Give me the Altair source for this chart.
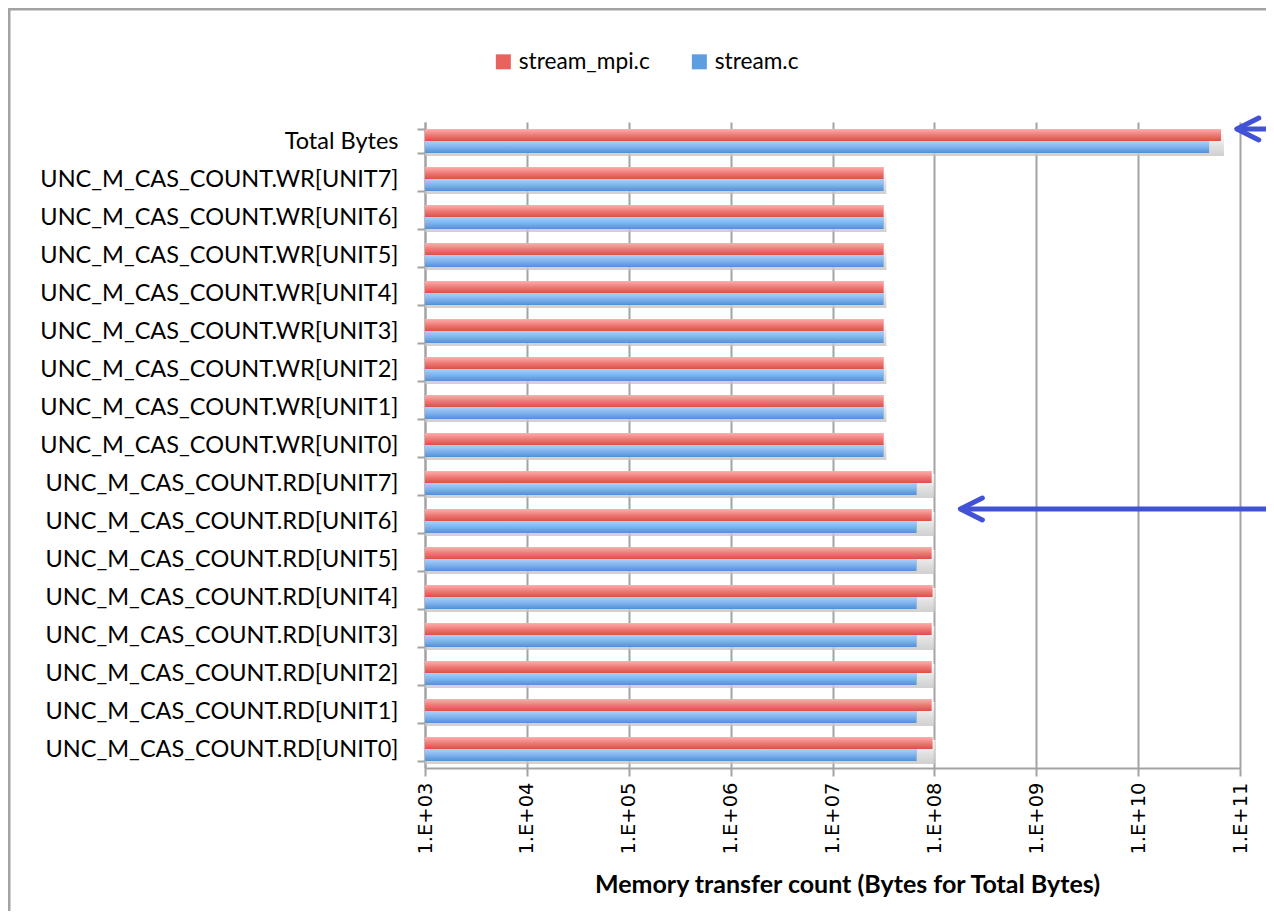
import altair as alt
import pandas as pd

categories = [
    "Total Bytes",
    "UNC_M_CAS_COUNT.WR[UNIT7]", "UNC_M_CAS_COUNT.WR[UNIT6]", "UNC_M_CAS_COUNT.WR[UNIT5]",
    "UNC_M_CAS_COUNT.WR[UNIT4]", "UNC_M_CAS_COUNT.WR[UNIT3]", "UNC_M_CAS_COUNT.WR[UNIT2]",
    "UNC_M_CAS_COUNT.WR[UNIT1]", "UNC_M_CAS_COUNT.WR[UNIT0]",
    "UNC_M_CAS_COUNT.RD[UNIT7]", "UNC_M_CAS_COUNT.RD[UNIT6]", "UNC_M_CAS_COUNT.RD[UNIT5]",
    "UNC_M_CAS_COUNT.RD[UNIT4]", "UNC_M_CAS_COUNT.RD[UNIT3]", "UNC_M_CAS_COUNT.RD[UNIT2]",
    "UNC_M_CAS_COUNT.RD[UNIT1]", "UNC_M_CAS_COUNT.RD[UNIT0]",
]
series = ["stream_mpi.c", "stream.c"]
mpi_values = [6.5e10,
              3.16e7, 3.16e7, 3.16e7, 3.16e7, 3.16e7, 3.16e7, 3.16e7, 3.16e7,
              9.35e7, 9.35e7, 9.35e7, 9.55e7, 9.35e7, 9.35e7, 9.35e7, 9.55e7]
stream_values = [4.97e10,
                 3.16e7, 3.16e7, 3.16e7, 3.16e7, 3.16e7, 3.16e7, 3.16e7, 3.16e7,
                 6.66e7, 6.66e7, 6.66e7, 6.66e7, 6.66e7, 6.66e7, 6.66e7, 6.66e7]
axis_min = 1e3
axis_max = 1e11
tick_values = [1e3, 1e4, 1e5, 1e6, 1e7, 1e8, 1e9, 1e10, 1e11]
x_title = "Memory transfer count (Bytes for Total Bytes)"

arrow_targets = ["Total Bytes", "UNC_M_CAS_COUNT.RD[UNIT6]"]
arrow_tips = [9.3e10, 1.8e8]
arrow_tails = [4e11, 4e11]

rows = []
for c, m, s in zip(categories, mpi_values, stream_values):
    rows.append({"category": c, "series": series[0], "value": m, "base": axis_min})
    rows.append({"category": c, "series": series[1], "value": s, "base": axis_min})
df = pd.DataFrame(rows)
shadow_df = pd.DataFrame({"category": categories,
                          "value": [max(m, s) for m, s in zip(mpi_values, stream_values)],
                          "base": [axis_min] * len(categories)})
arrows = pd.DataFrame({"category": arrow_targets, "tip": arrow_tips, "tail": arrow_tails})

GRAY = "#A3A3A3"
ARROW = "#4152D6"

y_scale = alt.Scale(paddingInner=0.37, paddingOuter=0.185)
y_enc = alt.Y("category:N", sort=categories, scale=y_scale,
              axis=alt.Axis(tickBand="extent", tickSize=8, tickWidth=2, tickColor=GRAY,
                            domainColor=GRAY, domainWidth=2, labelPadding=19,
                            labelFont="Lato", labelFontSize=23.5, labelColor="black",
                            labelLimit=600, title=None, grid=False))
yoff_enc = alt.YOffset("series:N", sort=series,
                       scale=alt.Scale(domain=series, paddingInner=0, paddingOuter=0))
x_enc = alt.X("value:Q",
              scale=alt.Scale(type="log", domain=[axis_min, axis_max], nice=False),
              stack=None,
              axis=alt.Axis(values=tick_values,
                            labelExpr="'1.E+' + (round(log(datum.value)/LN10) < 10 ? '0' : '') + round(log(datum.value)/LN10)",
                            labelAngle=-90, labelFont="DejaVu Sans", labelFontSize=19.5,
                            labelColor="black", labelPadding=6,
                            tickSize=8, tickWidth=2, tickColor=GRAY,
                            domainColor=GRAY, domainWidth=2,
                            grid=True, gridColor=GRAY, gridWidth=2,
                            titleFont="Lato", titleFontWeight="bold", titleFontSize=25,
                            titleColor="black", titleX=422, titleY=116, titleBaseline="middle"),
              title=x_title)

base = alt.Chart(df)

shadow_grad = alt.Gradient(gradient="linear", x1=0, x2=0, y1=0, y2=1,
                           stops=[alt.GradientStop(offset=0, color="#FFFFFF"),
                                  alt.GradientStop(offset=0.6, color="#D8D8D8"),
                                  alt.GradientStop(offset=1, color="#C4C4C4")])
shadow = alt.Chart(shadow_df).mark_bar(fill=shadow_grad, opacity=0.8, xOffset=3, yOffset=3).encode(
    x=x_enc, x2="base:Q", y=y_enc)

legend_bars = base.mark_bar().encode(
    x=x_enc, x2="base:Q", y=y_enc, yOffset=yoff_enc,
    color=alt.Color("series:N", sort=series,
                    scale=alt.Scale(domain=series, range=["#E9625E", "#5E9DE0"]),
                    legend=alt.Legend(orient="none", legendX=67, legendY=-72,
                                      direction="horizontal", title=None,
                                      symbolType="square", symbolSize=225,
                                      symbolStrokeWidth=0,
                                      labelFont="Lato", labelFontSize=22.7, labelColor="black",
                                      labelOffset=4, columnPadding=38, padding=0)))

red_grad = alt.Gradient(gradient="linear", x1=0, x2=0, y1=0, y2=1,
                        stops=[alt.GradientStop(offset=0, color="#FCB0AE"),
                               alt.GradientStop(offset=0.55, color="#EE7571"),
                               alt.GradientStop(offset=1, color="#DB4F4B")])
blue_grad = alt.Gradient(gradient="linear", x1=0, x2=0, y1=0, y2=1,
                         stops=[alt.GradientStop(offset=0, color="#AED0F8"),
                                alt.GradientStop(offset=0.55, color="#7BB0EC"),
                                alt.GradientStop(offset=1, color="#5190D8")])

mpi_bars = base.transform_filter(alt.datum.series == series[0]).mark_bar(fill=red_grad).encode(
    x=x_enc, x2="base:Q", y=y_enc, yOffset=yoff_enc)
stream_bars = base.transform_filter(alt.datum.series == series[1]).mark_bar(fill=blue_grad).encode(
    x=x_enc, x2="base:Q", y=y_enc, yOffset=yoff_enc)

arrow_base = alt.Chart(arrows)
arrow_shaft = arrow_base.mark_rule(color=ARROW, strokeWidth=5, yOffset=-12).encode(
    x=alt.X("tip:Q"), x2="tail:Q", y=y_enc)
arrow_head = arrow_base.mark_point(shape="M 1 -0.5 L 0 0 L 1 0.5", filled=False,
                                   stroke=ARROW, strokeWidth=5, size=1936, opacity=1,
                                   strokeJoin="round", strokeCap="round", yOffset=-12).encode(
    x=alt.X("tip:Q"), y=y_enc)

frame_top = alt.Chart(alt.Data(values=[{}])).mark_rule(color=GRAY, strokeWidth=3).encode(
    x=alt.value(-417), x2=alt.value(900), y=alt.value(-113))
frame_left = alt.Chart(alt.Data(values=[{}])).mark_rule(color=GRAY, strokeWidth=3).encode(
    x=alt.value(-416), y=alt.value(-114), y2=alt.value(800))

chart = alt.layer(shadow, legend_bars, mpi_bars, stream_bars, arrow_shaft, arrow_head,
                  frame_top, frame_left).properties(
    width=815, height=646,
    autosize=alt.AutoSizeParams(type="none"),
    padding={"left": 417, "top": 114, "right": 26, "bottom": 143},
).configure_view(stroke=None).configure_axis(labelFlush=False, labelOverlap=False)

chart.save("out.html", embed_options={"renderer": "svg", "actions": False})
